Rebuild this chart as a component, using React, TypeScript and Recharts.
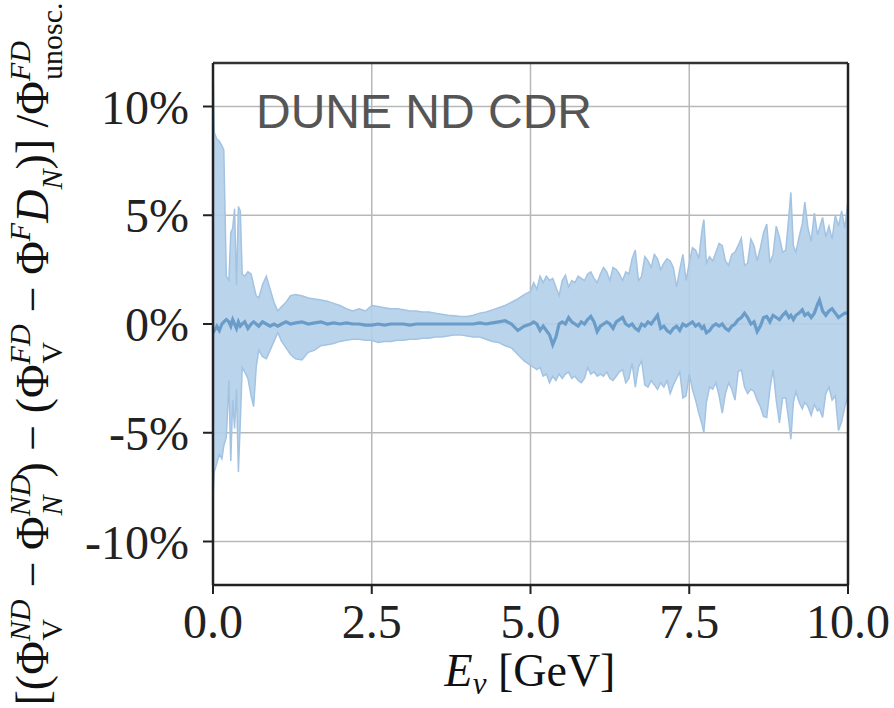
import React from 'react';
import { ComposedChart, Area, Line, XAxis, YAxis, CartesianGrid, ReferenceLine, Customized } from 'recharts';

const energies = [0.00,0.02,0.06,0.10,0.14,0.17,0.21,0.25,0.28,0.31,0.34,0.37,0.40,0.43,0.46,0.50,0.55,0.60,0.64,0.68,0.72,0.78,0.84,0.90,0.96,1.02,1.08,1.15,1.22,1.30,1.40,1.50,1.60,1.70,1.80,1.90,2.00,2.10,2.20,2.30,2.40,2.50,2.60,2.70,2.80,2.90,3.00,3.10,3.20,3.30,3.40,3.50,3.60,3.70,3.80,3.90,4.00,4.10,4.20,4.30,4.40,4.50,4.60,4.70,4.80,4.90,5.00,5.05,5.10,5.15,5.20,5.25,5.30,5.35,5.40,5.45,5.50,5.55,5.60,5.65,5.70,5.75,5.80,5.85,5.90,5.95,6.00,6.05,6.10,6.15,6.20,6.25,6.30,6.35,6.40,6.45,6.50,6.55,6.60,6.65,6.70,6.75,6.80,6.85,6.90,6.95,7.00,7.05,7.10,7.15,7.20,7.25,7.30,7.35,7.40,7.45,7.50,7.55,7.60,7.65,7.70,7.73,7.77,7.82,7.87,7.92,7.97,8.02,8.07,8.12,8.17,8.22,8.27,8.32,8.37,8.42,8.47,8.52,8.57,8.62,8.67,8.72,8.77,8.82,8.87,8.92,8.97,9.02,9.07,9.10,9.14,9.18,9.23,9.28,9.32,9.37,9.42,9.47,9.52,9.55,9.60,9.65,9.70,9.75,9.80,9.85,9.90,9.95,10.00];

const lowerEdge = [-8.0,-6.8,-6.4,-6.0,-6.2,-5.6,-5.2,-2.6,-6.3,-3.5,-4.8,-3.0,-6.8,-4.5,-2.0,-2.2,-2.5,-3.3,-3.8,-2.0,-1.2,-1.5,-1.6,-1.2,-0.8,-0.4,-0.8,-1.1,-1.4,-1.6,-1.65,-1.3,-1.2,-1.0,-0.95,-0.9,-0.8,-0.75,-0.7,-0.7,-0.75,-0.75,-0.85,-0.8,-0.8,-0.75,-0.75,-0.7,-0.7,-0.65,-0.65,-0.6,-0.6,-0.55,-0.5,-0.5,-0.55,-0.6,-0.6,-0.7,-0.8,-0.85,-1.0,-1.1,-1.4,-1.7,-1.9,-2.0,-2.1,-2.0,-2.4,-2.3,-2.7,-2.4,-2.6,-2.3,-2.5,-2.3,-2.2,-2.5,-2.4,-2.6,-2.7,-2.5,-2.0,-2.3,-2.2,-2.4,-2.3,-2.4,-2.2,-2.5,-2.6,-2.4,-2.2,-2.1,-2.7,-2.5,-1.8,-2.9,-2.0,-1.7,-2.8,-2.9,-2.6,-2.8,-3.0,-2.7,-2.9,-2.6,-3.2,-2.8,-2.5,-2.2,-3.4,-3.3,-2.3,-3.0,-3.5,-4.1,-4.6,-5.0,-3.6,-2.9,-3.0,-2.7,-3.3,-4.1,-3.2,-2.7,-3.0,-3.5,-2.2,-2.1,-2.9,-3.2,-3.0,-3.1,-3.5,-3.8,-4.25,-4.3,-3.0,-2.1,-3.5,-4.55,-3.4,-3.4,-4.5,-5.3,-3.6,-3.1,-3.6,-3.9,-3.6,-3.8,-4.2,-3.7,-4.0,-3.9,-4.3,-3.2,-2.9,-3.5,-3.3,-4.9,-4.5,-3.8,-3.3];

const upperEdge = [11.8,8.8,8.5,8.4,8.2,8.0,2.2,2.0,4.2,4.4,5.3,1.8,5.4,5.2,2.3,2.2,2.4,2.3,1.8,1.3,1.2,1.8,2.2,1.6,1.0,0.6,0.8,1.0,1.3,1.35,1.3,1.2,1.15,1.1,1.05,0.95,0.85,0.7,0.6,0.7,0.6,0.85,0.8,0.75,0.7,0.7,0.65,0.6,0.6,0.55,0.55,0.5,0.45,0.4,0.38,0.35,0.35,0.4,0.5,0.55,0.65,0.75,0.85,1.0,1.15,1.35,1.5,1.9,1.6,2.2,1.9,2.2,2.0,2.1,1.7,1.3,2.0,2.25,1.7,2.0,1.9,2.2,2.1,2.0,2.3,2.4,2.1,1.9,2.3,2.6,2.4,2.0,2.6,2.5,2.3,2.0,2.4,2.3,3.0,3.4,2.0,2.2,3.1,2.9,2.6,3.2,3.0,2.5,2.8,3.0,2.9,2.6,1.7,2.5,3.2,2.0,2.8,3.5,3.4,3.0,4.3,4.8,2.8,3.1,2.9,3.3,3.7,3.6,2.9,2.7,3.2,3.3,3.6,3.95,2.7,2.8,3.9,3.6,2.9,3.5,4.2,4.6,2.8,3.2,4.5,4.0,3.3,3.4,5.0,6.05,3.6,3.3,4.0,4.6,5.6,4.4,3.8,5.1,4.1,4.4,4.9,4.0,4.5,3.9,5.0,4.5,5.2,4.4,5.7];

const centerLine = [-0.2,-0.3,-0.1,-0.3,0.0,0.1,0.2,0.1,-0.1,0.2,0.0,-0.2,0.1,-0.1,0.0,0.1,-0.2,0.0,0.1,0.0,-0.1,0.1,0.0,-0.1,0.0,-0.1,0.0,0.1,0.0,0.05,0.1,0.0,0.05,0.1,0.0,0.05,0.0,0.05,0.0,0.0,-0.05,-0.05,0.0,-0.05,0.0,0.0,0.0,-0.05,0.0,0.0,0.0,0.0,0.0,0.0,0.0,0.0,0.0,0.0,0.05,0.0,0.05,0.1,0.15,0.0,-0.3,-0.1,0.0,0.1,0.0,-0.3,-0.1,-0.3,-0.5,-0.95,-0.6,0.0,0.1,0.0,0.3,0.1,0.0,-0.1,0.1,0.0,0.2,0.35,0.1,-0.35,-0.1,0.0,0.1,0.0,-0.2,0.1,0.2,0.3,0.0,-0.1,0.0,-0.2,-0.3,0.0,-0.1,0.1,0.0,0.2,0.4,-0.2,-0.1,-0.3,-0.4,-0.2,-0.1,-0.3,0.0,-0.1,0.0,0.1,-0.1,0.0,-0.2,-0.1,-0.4,-0.3,-0.1,0.0,-0.1,0.0,-0.2,-0.3,-0.1,0.0,0.2,0.3,0.5,0.3,0.0,0.1,-0.35,-0.1,0.3,0.35,0.1,0.4,0.3,0.2,0.4,0.55,0.3,0.4,0.2,0.4,0.5,0.65,0.4,0.5,0.3,0.5,0.9,1.1,0.6,0.4,0.6,0.7,0.5,0.3,0.4,0.5,0.5];

const xTicks = [0, 2.5, 5, 7.5, 10];
const yTicks = [-10, -5, 0, 5, 10];

const data = energies.map((e, i) => ({ e, band: [lowerEdge[i], upperEdge[i]], mid: centerLine[i] }));

const serif = '"Liberation Serif", "DejaVu Serif", serif';

const Overlay = () => (
  <g>
    <text x={256} y={128} fontFamily='"Liberation Sans", Arial, sans-serif' fontSize={48} fill="#555">DUNE ND CDR</text>
    <text x={530} y={686} textAnchor="middle" fontFamily={serif} fontSize={46} fill="#111">
      <tspan fontStyle="italic">E</tspan>
      <tspan fontStyle="italic" fontSize={31} dy={8}>ν</tspan>
      <tspan dy={-8}> [GeV]</tspan>
    </text>
    <text transform="translate(48,354) rotate(-90)" textAnchor="middle" fontFamily={serif} fontSize={46} fill="#111">
      <tspan>[(Φ</tspan>
      <tspan fontSize={30} fontStyle="italic" dy={-18}>ND</tspan>
      <tspan fontSize={30} dx={-41} dy={32}>V</tspan>
      <tspan dx={20} dy={-14}> − Φ</tspan>
      <tspan fontSize={30} fontStyle="italic" dy={-18}>ND</tspan>
      <tspan fontSize={30} fontStyle="italic" dx={-41} dy={32}>N</tspan>
      <tspan dx={18} dy={-14}>) − (Φ</tspan>
      <tspan fontSize={30} fontStyle="italic" dy={-18}>FD</tspan>
      <tspan fontSize={30} dx={-39} dy={32}>V</tspan>
      <tspan dx={18} dy={-14}> − Φ</tspan>
      <tspan fontSize={30} fontStyle="italic" dy={-18}>F</tspan>
      <tspan fontStyle="italic" dy={18}>D</tspan>
      <tspan fontSize={30} fontStyle="italic" dy={14}>N</tspan>
      <tspan dy={-14}>)] /Φ</tspan>
      <tspan fontSize={30} fontStyle="italic" dy={-18}>FD</tspan>
      <tspan fontSize={30} dx={-39} dy={32}>unosc.</tspan>
    </text>
  </g>
);

export default function App() {
  return (
    <div style={{ position: 'absolute', left: 0, top: 0, width: 894, height: 708, background: '#fff' }}>
      <ComposedChart width={894} height={708} data={data} margin={{ top: 63, right: 46, bottom: 63, left: 113 }}>
        <CartesianGrid stroke="#b8b8b8" strokeWidth={1.5} />
        <XAxis
          dataKey="e"
          type="number"
          domain={[0, 10]}
          ticks={xTicks}
          tickFormatter={(v: number) => v.toFixed(1)}
          height={60}
          tickSize={9}
          tickMargin={10}
          axisLine={{ stroke: '#222', strokeWidth: 2.5 }}
          tickLine={{ stroke: '#222', strokeWidth: 2 }}
          tick={{ fontFamily: serif, fontSize: 48, fill: '#222' }}
        />
        <YAxis
          type="number"
          domain={[-12, 12]}
          ticks={yTicks}
          tickFormatter={(v: number) => `${v}%`}
          width={100}
          tickSize={10}
          tickMargin={14}
          axisLine={{ stroke: '#222', strokeWidth: 2.5 }}
          tickLine={{ stroke: '#222', strokeWidth: 2 }}
          tick={{ fontFamily: serif, fontSize: 48, fill: '#222' }}
        />
        <Area
          type="linear"
          dataKey="band"
          stroke="#a3c3e3"
          strokeWidth={1.5}
          fill="#b3cfea"
          fillOpacity={0.9}
          isAnimationActive={false}
        />
        <Line
          type="linear"
          dataKey="mid"
          stroke="#6a9cc9"
          strokeWidth={3.2}
          dot={false}
          isAnimationActive={false}
        />
        <ReferenceLine y={12} stroke="#333" strokeWidth={2.5} />
        <ReferenceLine x={10} stroke="#222" strokeWidth={2.5} />
        <Customized component={Overlay} />
      </ComposedChart>
    </div>
  );
}
